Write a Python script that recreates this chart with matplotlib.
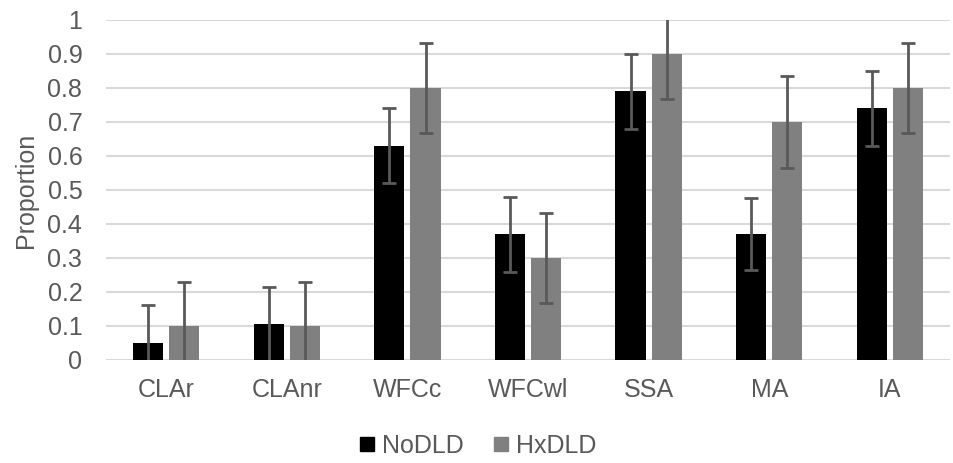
import matplotlib.pyplot as plt
from matplotlib.lines import Line2D
import numpy as np

plt.rcParams['font.family'] = ['Liberation Sans', 'DejaVu Sans']

# Proporciones por tarea y grupo
tareas = ['CLAr', 'CLAnr', 'WFCc', 'WFCwl', 'SSA', 'MA', 'IA']
no_dld = [0.05, 0.105, 0.63, 0.37, 0.79, 0.37, 0.74]
hx_dld = [0.10, 0.10, 0.80, 0.30, 0.90, 0.70, 0.80]
err_no = [0.112, 0.11, 0.11, 0.11, 0.11, 0.105, 0.11]
err_hx = [0.13, 0.13, 0.133, 0.133, 0.133, 0.135, 0.133]
yticks = [0, 0.1, 0.2, 0.3, 0.4, 0.5, 0.6, 0.7, 0.8, 0.9, 1]
ytick_labels = ['0', '0.1', '0.2', '0.3', '0.4', '0.5', '0.6', '0.7', '0.8', '0.9', '1']

texto = '#595959'
x = np.arange(len(tareas))
ancho = 0.25

fig = plt.figure(figsize=(9.54, 4.63), dpi=100)
ax = fig.add_axes([0.111, 0.2225, 0.885, 0.7345])

err_kw = dict(ecolor='#595959', elinewidth=2, capsize=5, capthick=2)
ax.bar(x - 0.15, no_dld, ancho, color='black', yerr=err_no, error_kw=err_kw, zorder=3)
ax.bar(x + 0.15, hx_dld, ancho, color='#808080', yerr=err_hx, error_kw=err_kw, zorder=3)

ax.set_ylim(0, 1)
ax.set_xlim(-0.5, len(tareas) - 0.5)
ax.set_yticks(yticks)
ax.set_yticklabels(ytick_labels)
ax.set_xticks(x)
ax.set_xticklabels(tareas)
ax.tick_params(axis='both', length=0, labelsize=18, labelcolor=texto)
ax.tick_params(axis='y', pad=17)
ax.tick_params(axis='x', pad=13)
ax.yaxis.grid(True, color='#d9d9d9', linewidth=1.5, zorder=0)
ax.set_axisbelow(True)
for s in ax.spines.values():
    s.set_visible(False)
ax.set_ylabel('Proportion', fontsize=18, color=texto, labelpad=7)

handles = [Line2D([], [], marker='s', linestyle='', color='black', markersize=10),
           Line2D([], [], marker='s', linestyle='', color='#808080', markersize=10)]
fig.legend(handles, ['NoDLD', 'HxDLD'], loc='center', bbox_to_anchor=(0.5, 0.037),
           ncol=2, frameon=False, fontsize=18, labelcolor=texto,
           handletextpad=0.2, columnspacing=1.1, handlelength=0.8)

plt.savefig('out.png', dpi=100)
